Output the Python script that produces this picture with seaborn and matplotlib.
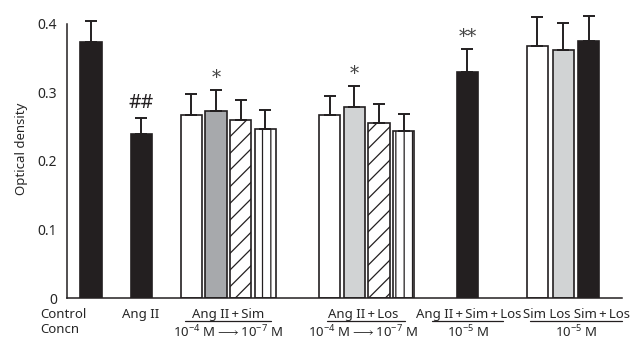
import matplotlib
matplotlib.use("Agg")
import matplotlib.pyplot as plt
import matplotlib.transforms as mtransforms
import seaborn as sns
import numpy as np
import pandas as pd

sns.set_style("white")
plt.rcParams['font.family'] = ['Noto Sans', 'DejaVu Sans']
plt.rcParams['mathtext.default'] = 'regular'
plt.rcParams['hatch.linewidth'] = 0.9

# Data (optical density, mean and SEM) per group
control_mean = [0.374]
control_err = [0.031]
angii_mean = [0.239]
angii_err = [0.024]
angii_sim_mean = [0.267, 0.273, 0.260, 0.247]
angii_sim_err = [0.031, 0.030, 0.029, 0.028]
angii_los_mean = [0.267, 0.279, 0.256, 0.244]
angii_los_err = [0.028, 0.030, 0.027, 0.024]
angii_sim_los_mean = [0.330]
angii_sim_los_err = [0.033]
single_mean = [0.368, 0.362, 0.375]
single_err = [0.042, 0.039, 0.037]

# significance marks: (group index, bar index in group, text)
marks = [(1, 0, "##"), (2, 1, "*"), (3, 1, "*"), (4, 0, "**")]

# colours / hatches per bar within each group
black, white, dgray, lgray = "#231f20", "#ffffff", "#a7a9ac", "#d1d3d4"
group_colors = [[black], [black], [white, dgray, white, white],
                [white, lgray, white, white], [black], [white, lgray, black]]
group_hatches = [[""], [""], ["", "", "//", "||"], ["", "", "//", "||"], [""], ["", "", ""]]

# layout (x in units of the within-group bar spacing)
group_starts = [0, 2.05, 4.08, 9.71, 15.3, 18.15]
group_steps = [1, 1, 1, 1, 1, 1.045]

means = [control_mean, angii_mean, angii_sim_mean, angii_los_mean, angii_sim_los_mean, single_mean]
errs = [control_err, angii_err, angii_sim_err, angii_los_err, angii_sim_los_err, single_err]

rows = []
for g, (m, e) in enumerate(zip(means, errs)):
    for i, (v, s) in enumerate(zip(m, e)):
        rows.append(dict(pos=group_starts[g] + i * group_steps[g], value=v, err=s,
                         bar=f"g{g}b{i}", color=group_colors[g][i], hatch=group_hatches[g][i],
                         group=g, idx=i))
df = pd.DataFrame(rows)

fig = plt.figure(figsize=(6.32, 3.4), dpi=100)
ax = fig.add_axes([67 / 632, 42 / 340, 555 / 632, 298 / 340])

sns.barplot(data=df, x="pos", y="value", hue="bar", native_scale=True, dodge=False,
            palette=dict(zip(df["bar"], df["color"])), saturation=1, width=0.86,
            edgecolor=black, linewidth=1.2, legend=False, errorbar=None, ax=ax)

patches = sorted(ax.patches, key=lambda p: p.get_x())
for p, h in zip(patches, df.sort_values("pos")["hatch"]):
    p.set_hatch(h)

ax.errorbar(df["pos"], df["value"], yerr=[np.zeros(len(df)), df["err"]], fmt="none",
            ecolor=black, elinewidth=1.4, capsize=4, capthick=1.4, zorder=3)

for g, i, txt in marks:
    r = df[(df.group == g) & (df.idx == i)].iloc[0]
    if txt == "##":
        ax.text(r.pos, r.value + r.err + 0.021, txt, ha="center", va="center",
                fontsize=14, color=black)
    else:
        ax.text(r.pos, r.value + r.err + 0.018, txt, ha="center", va="center",
                fontsize=13, color="#444444", family="DejaVu Serif")

ax.set_xlim(-0.976, 21.59)
ax.set_ylim(0, 0.435)
ax.set_yticks([0, 0.1, 0.2, 0.3, 0.4])
ax.set_yticklabels(["0", "0.1", "0.2", "0.3", "0.4"], fontsize=10)
ax.set_xticks([1.10, 3.09, 8.50, 14.11, 16.91])
ax.set_xticklabels([])
ax.tick_params(axis="x", direction="in", length=5, width=1, color=black)
ax.tick_params(axis="y", direction="out", length=5, width=1, color=black, pad=2)
ax.set_xlabel("")
ax.set_ylabel("Optical density", fontsize=9.5, labelpad=7)
sns.despine(ax=ax)
ax.spines["left"].set_bounds(0, 0.4)
for s in ["left", "bottom"]:
    ax.spines[s].set_color(black)
    ax.spines[s].set_linewidth(1.1)

# group labels below the axis
tr = mtransforms.blended_transform_factory(ax.transData, ax.transAxes)
fs = 9.5
y1, y2, yl = -0.054, -0.113, -0.077
plus = "\u2009+\u2009"
ax.text(-2.07, y1, "Control", transform=tr, ha="left", va="center", fontsize=fs)
ax.text(-2.07, y2 + 0.006, "Concn", transform=tr, ha="left", va="center", fontsize=fs)
ax.text(2.03, y1, "Ang II", transform=tr, ha="center", va="center", fontsize=fs)
labels = [
    (5.57, 3.82, 7.32, f"Ang II{plus}Sim", r"10$^{-4}$ M$\longrightarrow$10$^{-7}$ M"),
    (11.06, 9.59, 12.76, f"Ang II{plus}Los", r"10$^{-4}$ M$\longrightarrow$10$^{-7}$ M"),
    (15.35, 13.86, 16.75, f"Ang II{plus}Sim{plus}Los", r"10$^{-5}$ M"),
    (19.72, 17.85, 21.59, f"Sim Los Sim{plus}Los", r"10$^{-5}$ M"),
]
for xc, x0, x1, top, bottom in labels:
    ax.text(xc, y1, top, transform=tr, ha="center", va="center", fontsize=fs)
    ax.plot([x0, x1], [yl, yl], transform=tr, color=black, lw=0.9, clip_on=False)
    ax.text(xc, y2, bottom, transform=tr, ha="center", va="center", fontsize=fs)

fig.savefig("out.png", dpi=100)
